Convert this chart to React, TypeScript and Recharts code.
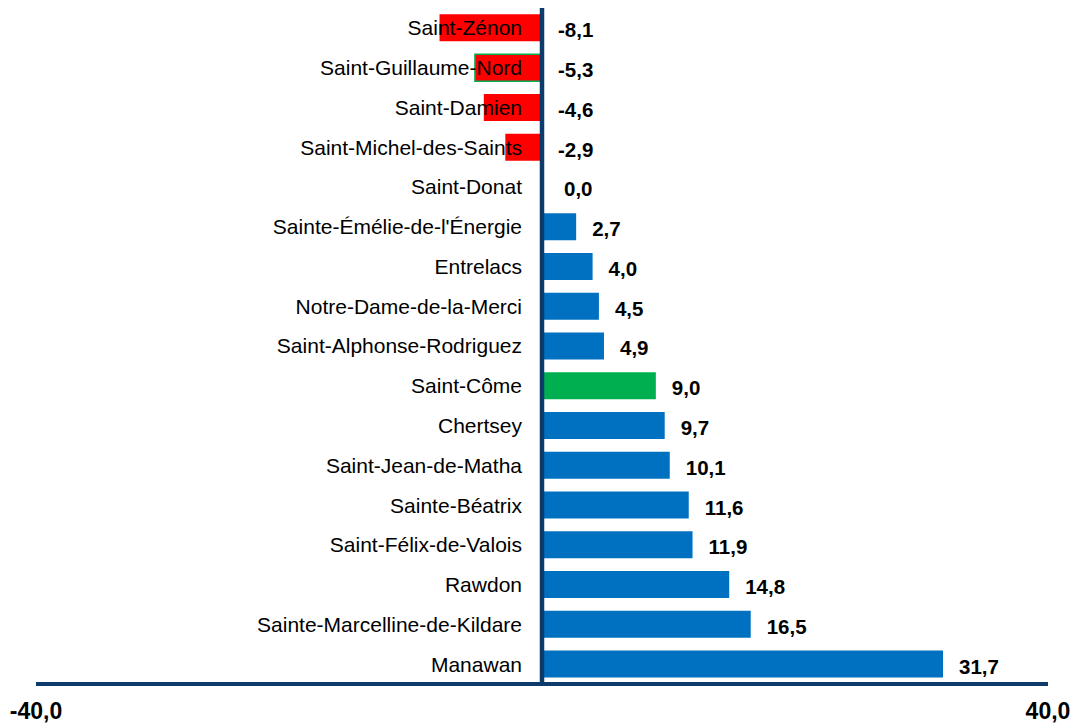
import { Bar, BarChart, Cell, LabelList, ReferenceLine, XAxis, YAxis } from 'recharts'

// Municipalities, top to bottom, with their change (%)
const municipalities = [
  'Saint-Zénon',
  'Saint-Guillaume-Nord',
  'Saint-Damien',
  'Saint-Michel-des-Saints',
  'Saint-Donat',
  "Sainte-Émélie-de-l'Énergie",
  'Entrelacs',
  'Notre-Dame-de-la-Merci',
  'Saint-Alphonse-Rodriguez',
  'Saint-Côme',
  'Chertsey',
  'Saint-Jean-de-Matha',
  'Sainte-Béatrix',
  'Saint-Félix-de-Valois',
  'Rawdon',
  'Sainte-Marcelline-de-Kildare',
  'Manawan',
]
const changes = [-8.1, -5.3, -4.6, -2.9, 0.0, 2.7, 4.0, 4.5, 4.9, 9.0, 9.7, 10.1, 11.6, 11.9, 14.8, 16.5, 31.7]
const axisTicks = [-40, 40]
const highlighted = 'Saint-Côme'
const outlined = 'Saint-Guillaume-Nord'

const NAVY = '#0b3a6b'
const BLUE = '#0070c0'
const GREEN = '#00b050'
const RED = '#ff0000'
const FONT = '"Liberation Sans", Arial, sans-serif'

const data = municipalities.map((name, i) => ({ name, value: changes[i] }))

const fmt = (v: number) => v.toFixed(1).replace('.', ',')

// bar geometry from the label props; the zero edge depends on the sign
function edges(props: any) {
  const vb = props.viewBox ?? props
  const x = Number(vb.x)
  const w = Number(vb.width)
  const y = Number(vb.y)
  const h = Number(vb.height)
  return { left: Math.min(x, x + w), right: Math.max(x, x + w), cy: y + h / 2 }
}

function NameLabel(props: any) {
  const name = String(props.value)
  const v = changes[municipalities.indexOf(name)]
  const { left, right, cy } = edges(props)
  const zero = v < 0 ? right : left
  return (
    <text x={zero - 20} y={cy} textAnchor="end" dominantBaseline="central" fontSize={21} fill="#000" fontFamily={FONT}>
      {name}
    </text>
  )
}

function ValueLabel(props: any) {
  const v = Number(props.value)
  const { left, right, cy } = edges(props)
  // zero sits just past the axis line, like the negatives
  const start = v === 0 ? left + 22 : (v < 0 ? right : right) + 16
  return (
    <text x={start} y={cy + 2} textAnchor="start" dominantBaseline="central" fontSize={20.5} fontWeight="bold" fill="#000" fontFamily={FONT}>
      {fmt(v)}
    </text>
  )
}

export default function App() {
  return (
    <div style={{ position: 'absolute', left: 0, top: 0 }}>
      <BarChart
        width={1073}
        height={724}
        data={data}
        layout="vertical"
        margin={{ top: 8, right: 25, left: 36, bottom: 0 }}
        barCategoryGap="16%"
      >
        <XAxis
          type="number"
          domain={[-40, 40]}
          ticks={axisTicks}
          interval={0}
          tickFormatter={fmt}
          axisLine={{ stroke: NAVY, strokeWidth: 4 }}
          tickLine={false}
          tickSize={6}
          tickMargin={13}
          height={40}
          tick={{ fill: '#000', fontSize: 23, fontWeight: 'bold', fontFamily: FONT }}
        />
        <YAxis type="category" dataKey="name" hide />
        <Bar dataKey="value" minPointSize={1} isAnimationActive={false}>
          {data.map((d) => (
            <Cell
              key={d.name}
              fill={d.name === highlighted ? GREEN : d.value < 0 ? RED : BLUE}
              stroke={d.name === outlined ? GREEN : 'none'}
              strokeWidth={d.name === outlined ? 1.5 : 0}
            />
          ))}
          <LabelList dataKey="name" content={NameLabel} />
          <LabelList dataKey="value" content={ValueLabel} />
        </Bar>
        <ReferenceLine x={0} stroke={NAVY} strokeWidth={4.5} />
      </BarChart>
    </div>
  )
}
